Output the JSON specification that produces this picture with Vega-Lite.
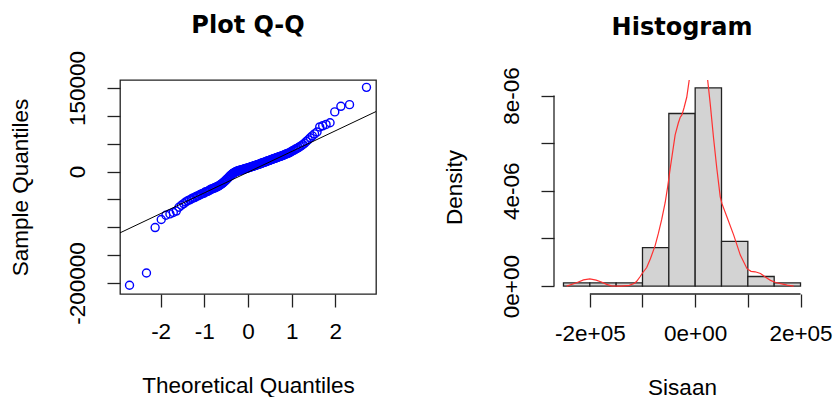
{
  "$schema": "https://vega.github.io/schema/vega-lite/v6.json",
  "background": "white",
  "padding": {"left": 8, "top": 13, "right": 0, "bottom": 0},
  "spacing": 178,
  "bounds": "flush",
  "config": {
    "font": "Liberation Sans",
    "axis": {"grid": false, "domain": false, "tickSize": 13, "tickColor": "#222", "tickWidth": 1.3, "labelFont": "Liberation Sans", "labelFontSize": 22.5, "labelColor": "#000", "titleFont": "Liberation Sans", "titleFontSize": 22.5, "titleFontWeight": "normal", "titleColor": "#000", "labelOverlap": false, "labelFlush": false, "labelBound": false},
    "title": {"font": "DejaVu Sans", "fontSize": 24, "fontWeight": "bold", "color": "#000", "baseline": "alphabetic", "anchor": "middle", "frame": "group"}
  },
  "datasets": {
    "qq": [
      {"t":-2.712,"s":-204000},{"t":-2.324,"s":-182000},{"t":-2.126,"s":-100500},{"t":-1.986,"s":-86000},{"t":-1.878,"s":-78500},{"t":-1.787,"s":-76000},{"t":-1.710,"s":-73500},{"t":-1.642,"s":-71000},{"t":-1.580,"s":-64000},{"t":-1.524,"s":-60500},{"t":-1.472,"s":-57500},{"t":-1.424,"s":-54500},{"t":-1.379,"s":-52500},{"t":-1.337,"s":-50800},{"t":-1.297,"s":-49200},{"t":-1.259,"s":-47300},{"t":-1.222,"s":-46800},{"t":-1.188,"s":-44600},{"t":-1.154,"s":-43800},{"t":-1.122,"s":-43000},{"t":-1.092,"s":-41000},{"t":-1.061,"s":-40400},{"t":-1.032,"s":-39300},{"t":-1.004,"s":-38800},{"t":-0.977,"s":-36500},{"t":-0.950,"s":-36100},{"t":-0.924,"s":-35600},{"t":-0.898,"s":-34000},{"t":-0.873,"s":-33500},{"t":-0.849,"s":-31600},{"t":-0.825,"s":-31200},{"t":-0.802,"s":-30700},{"t":-0.778,"s":-29600},{"t":-0.756,"s":-29200},{"t":-0.734,"s":-28000},{"t":-0.712,"s":-27400},{"t":-0.690,"s":-26400},{"t":-0.669,"s":-25900},{"t":-0.648,"s":-24600},{"t":-0.628,"s":-23600},{"t":-0.607,"s":-22400},{"t":-0.587,"s":-21200},{"t":-0.567,"s":-19800},{"t":-0.548,"s":-18600},{"t":-0.528,"s":-17000},{"t":-0.509,"s":-15800},{"t":-0.490,"s":-14200},{"t":-0.471,"s":-12800},{"t":-0.452,"s":-11200},{"t":-0.434,"s":-9800},{"t":-0.415,"s":-8300},{"t":-0.397,"s":-7000},{"t":-0.379,"s":-5600},{"t":-0.361,"s":-4500},{"t":-0.343,"s":-3300},{"t":-0.325,"s":-2400},{"t":-0.307,"s":-1500},{"t":-0.290,"s":-800},{"t":-0.272,"s":-200},{"t":-0.255,"s":400},{"t":-0.237,"s":900},{"t":-0.220,"s":1300},{"t":-0.203,"s":1800},{"t":-0.186,"s":2200},{"t":-0.169,"s":2600},{"t":-0.152,"s":3000},{"t":-0.135,"s":3400},{"t":-0.118,"s":3700},{"t":-0.101,"s":4100},{"t":-0.084,"s":4500},{"t":-0.067,"s":4900},{"t":-0.050,"s":5300},{"t":-0.034,"s":5800},{"t":-0.017,"s":6200},{"t":0,"s":6600},
      {"t":0.017,"s":7000},{"t":0.034,"s":7500},{"t":0.050,"s":7900},{"t":0.067,"s":8300},{"t":0.084,"s":8800},{"t":0.101,"s":9200},{"t":0.118,"s":9600},{"t":0.135,"s":10100},{"t":0.152,"s":10500},{"t":0.169,"s":11000},{"t":0.186,"s":11400},{"t":0.203,"s":11900},{"t":0.220,"s":12400},{"t":0.237,"s":12800},{"t":0.255,"s":13300},{"t":0.272,"s":13800},{"t":0.290,"s":14300},{"t":0.307,"s":14800},{"t":0.325,"s":15300},{"t":0.343,"s":15800},{"t":0.361,"s":16300},{"t":0.379,"s":16800},{"t":0.397,"s":17300},{"t":0.415,"s":17900},{"t":0.434,"s":18400},{"t":0.452,"s":19000},{"t":0.471,"s":19600},{"t":0.490,"s":20100},{"t":0.509,"s":20700},{"t":0.528,"s":21200},{"t":0.548,"s":21800},{"t":0.567,"s":22400},{"t":0.587,"s":22900},{"t":0.607,"s":23500},{"t":0.628,"s":24100},{"t":0.648,"s":24700},{"t":0.669,"s":25300},{"t":0.690,"s":25900},{"t":0.712,"s":26500},{"t":0.734,"s":27100},{"t":0.756,"s":27700},{"t":0.778,"s":28300},{"t":0.802,"s":28900},{"t":0.825,"s":29800},{"t":0.849,"s":30700},{"t":0.873,"s":31500},{"t":0.898,"s":32200},{"t":0.924,"s":32900},{"t":0.950,"s":33900},{"t":0.977,"s":35000},{"t":1.004,"s":36300},{"t":1.032,"s":37600},{"t":1.061,"s":38900},{"t":1.092,"s":40300},{"t":1.122,"s":41600},{"t":1.154,"s":43000},{"t":1.188,"s":44600},{"t":1.222,"s":46400},{"t":1.259,"s":48500},{"t":1.297,"s":51000},{"t":1.337,"s":54000},{"t":1.379,"s":57000},{"t":1.424,"s":60500},{"t":1.472,"s":64000},{"t":1.524,"s":67500},{"t":1.580,"s":71000},{"t":1.642,"s":80000},{"t":1.710,"s":82000},{"t":1.787,"s":84500},{"t":1.878,"s":87500},{"t":1.986,"s":107000},{"t":2.126,"s":117000},{"t":2.324,"s":120000},{"t":2.712,"s":151000}
    ],
    "qqline": [{"t": -2.93, "s": -110000}, {"t": 2.93, "s": 107600}],
    "hist": [
      {"lo": -250000, "hi": -200000, "density": 1.342e-7},
      {"lo": -200000, "hi": -150000, "density": 1.342e-7},
      {"lo": -150000, "hi": -100000, "density": 1.342e-7},
      {"lo": -100000, "hi": -50000, "density": 1.6107e-6},
      {"lo": -50000, "hi": 0, "density": 7.2483e-6},
      {"lo": 0, "hi": 50000, "density": 8.3221e-6},
      {"lo": 50000, "hi": 100000, "density": 1.8792e-6},
      {"lo": 100000, "hi": 150000, "density": 4.027e-7},
      {"lo": 150000, "hi": 200000, "density": 1.342e-7}
    ],
    "dens": [
      {"x": -244000, "y": 0}, {"x": -225000, "y": 1.4e-7}, {"x": -212000, "y": 2.6e-7}, {"x": -200000, "y": 3.0e-7}, {"x": -188000, "y": 2.5e-7}, {"x": -178000, "y": 1.7e-7}, {"x": -168000, "y": 7e-8}, {"x": -159000, "y": 1e-8}, {"x": -140000, "y": 0}, {"x": -125000, "y": 3e-8}, {"x": -115000, "y": 1.2e-7}, {"x": -111000, "y": 2.0e-7}, {"x": -105000, "y": 3.8e-7}, {"x": -100000, "y": 5.5e-7}, {"x": -92000, "y": 7.8e-7}, {"x": -85000, "y": 1.15e-6}, {"x": -76000, "y": 1.7e-6}, {"x": -70000, "y": 2.2e-6}, {"x": -63500, "y": 2.8e-6}, {"x": -57000, "y": 3.5e-6}, {"x": -52000, "y": 4.2e-6}, {"x": -47000, "y": 5.0e-6}, {"x": -44000, "y": 5.45e-6}, {"x": -38000, "y": 6.35e-6}, {"x": -32000, "y": 6.85e-6}, {"x": -28500, "y": 7.08e-6}, {"x": -25000, "y": 7.2e-6}, {"x": -21000, "y": 7.5e-6}, {"x": -16000, "y": 7.93e-6}, {"x": -11000, "y": 8.7e-6}, {"x": -6000, "y": 9.3e-6}, {"x": 0, "y": 9.6e-6}, {"x": 6000, "y": 9.7e-6}, {"x": 12000, "y": 9.6e-6}, {"x": 18000, "y": 9.3e-6}, {"x": 23500, "y": 8.7e-6}, {"x": 28600, "y": 7.65e-6}, {"x": 35000, "y": 6.2e-6}, {"x": 41000, "y": 4.96e-6}, {"x": 47600, "y": 3.75e-6}, {"x": 51000, "y": 3.45e-6}, {"x": 60000, "y": 2.92e-6}, {"x": 73000, "y": 2.15e-6}, {"x": 85700, "y": 1.3e-6}, {"x": 98400, "y": 7.3e-7}, {"x": 106000, "y": 6.2e-7}, {"x": 114000, "y": 6.0e-7}, {"x": 124000, "y": 5.3e-7}, {"x": 133000, "y": 3.8e-7}, {"x": 143000, "y": 2.4e-7}, {"x": 153000, "y": 1.5e-7}, {"x": 162000, "y": 1.0e-7}, {"x": 175000, "y": 4e-8}, {"x": 187000, "y": 0}
    ]
  },
  "hconcat": [
    {
      "width": 256,
      "height": 214,
      "title": {"text": "Plot Q-Q", "offset": 12},
      "view": {"stroke": "#222", "strokeWidth": 1.3},
      "layer": [
        {
          "data": {"name": "qq"},
          "mark": {"type": "point", "shape": "circle", "filled": false, "color": "#0000ff", "size": 64, "strokeWidth": 1.4, "opacity": 1},
          "encoding": {
            "x": {"field": "t", "type": "quantitative", "scale": {"domain": [-2.93, 2.93], "nice": false, "zero": false},
              "axis": {"title": "Theoretical Quantiles", "values": [-2, -1, 0, 1, 2], "tickCount": 10, "labelBaseline": "alphabetic", "labelPadding": 31, "titleBaseline": "alphabetic", "titlePadding": 50,
                "labelExpr": "datum.value < 0 ? '-' + (-datum.value) : '' + datum.value"}},
            "y": {"field": "s", "type": "quantitative", "scale": {"domain": [-219700, 164200], "nice": false, "zero": false},
              "axis": {"title": "Sample Quantiles", "values": [-200000, -150000, -100000, -50000, 0, 50000, 100000, 150000], "tickCount": 20, "labelAngle": 270, "labelAlign": "center", "labelBaseline": "alphabetic", "labelPadding": 23, "titleBaseline": "alphabetic", "titlePadding": 38.5,
                "labelExpr": "datum.value == 150000 ? '150000' : datum.value == 0 ? '0' : datum.value == -200000 ? '-200000' : ''"}}
          }
        },
        {
          "data": {"name": "qqline"},
          "mark": {"type": "line", "color": "#000", "strokeWidth": 1, "clip": true},
          "encoding": {"x": {"field": "t", "type": "quantitative"}, "y": {"field": "s", "type": "quantitative"}}
        }
      ]
    },
    {
      "width": 256,
      "height": 214,
      "title": {"text": "Histogram", "offset": 27},
      "view": {"stroke": null},
      "layer": [
        {
          "data": {"name": "hist"},
          "mark": {"type": "rect", "fill": "#d3d3d3", "stroke": "#222", "strokeWidth": 1.3},
          "encoding": {
            "x": {"field": "lo", "type": "quantitative", "scale": {"domain": [-268000, 218000], "nice": false, "zero": false},
              "axis": {"title": "Sisaan", "values": [-200000, -100000, 0, 100000, 200000], "tickCount": 10, "labelBaseline": "alphabetic", "labelPadding": 33.5, "titleBaseline": "alphabetic", "titlePadding": 49,
                "labelExpr": "datum.value == -200000 ? '-2e+05' : datum.value == 0 ? '0e+00' : datum.value == 200000 ? '2e+05' : ''"}},
            "x2": {"field": "hi"},
            "y": {"field": "density", "type": "quantitative", "scale": {"domain": [-3.329e-7, 8.655e-6], "nice": false, "zero": false},
              "axis": {"title": "Density", "values": [0, 2e-6, 4e-6, 6e-6, 8e-6], "tickCount": 10, "labelAngle": 270, "labelAlign": "center", "labelBaseline": "alphabetic", "labelPadding": 23, "titleBaseline": "alphabetic", "titlePadding": 39,
                "labelExpr": "datum.value == 0 ? '0e+00' : datum.value == 4e-6 ? '4e-06' : datum.value == 8e-6 ? '8e-06' : ''"}},
            "y2": {"datum": 0}
          }
        },
        {
          "data": {"name": "dens"},
          "mark": {"type": "line", "color": "#ff3030", "strokeWidth": 1.2, "clip": true},
          "encoding": {"x": {"field": "x", "type": "quantitative"}, "y": {"field": "y", "type": "quantitative"}}
        },
        {
          "data": {"values": [{}]},
          "mark": {"type": "rule", "color": "#222", "strokeWidth": 1.3},
          "encoding": {"x": {"datum": -268000, "type": "quantitative"}, "y": {"datum": 0, "type": "quantitative"}, "y2": {"datum": 8e-6}}
        },
        {
          "data": {"values": [{}]},
          "mark": {"type": "rule", "color": "#222", "strokeWidth": 1.3},
          "encoding": {"x": {"datum": -200000, "type": "quantitative"}, "x2": {"datum": 200000}, "y": {"datum": -3.329e-7, "type": "quantitative"}}
        }
      ]
    }
  ]
}
